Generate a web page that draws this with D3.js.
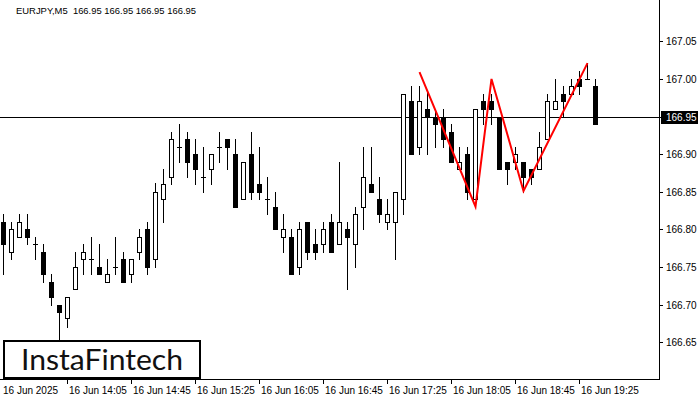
<!DOCTYPE html>
<html><head><meta charset="utf-8">
<script src="https://cdn.jsdelivr.net/npm/d3@7"></script>
<style>body{margin:0;background:#fff;} svg{display:block;}</style>
</head><body>
<svg id="c" width="700" height="400"></svg>
<script>
const symbolLabel = "EURJPY,M5";
const headerValues = ["166.95", "166.95", "166.95", "166.95"];

const open = [166.81,166.77,166.79,166.80,166.78,166.77,166.73,166.70,166.682,166.72,
  166.76,166.76,166.75,166.73,166.75,166.76,166.74,166.77,166.80,166.76,
  166.84,166.87,166.91,166.92,166.90,166.87,166.88,166.91,166.92,166.90,
  166.84,166.90,166.86,166.84,166.83,166.79,166.79,166.75,166.81,166.78,
  166.78,166.81,166.78,166.80,166.78,166.83,166.86,166.84,166.81,166.81,
  166.84,166.97,166.91,166.96,166.95,166.95,166.93,166.88,166.90,166.84,
  166.97,166.97,166.95,166.89,166.89,166.89,166.88,166.88,166.92,166.96,
  166.98,166.98,167.00,167.00,166.99];
const close = [166.78,166.80,166.81,166.79,166.78,166.74,166.71,166.69,166.71,166.75,
  166.77,166.76,166.74,166.74,166.75,166.73,166.76,166.79,166.75,166.85,
  166.86,166.92,166.91,166.89,166.88,166.87,166.90,166.91,166.91,166.83,
  166.89,166.85,166.85,166.84,166.80,166.80,166.74,166.80,166.77,166.77,
  166.80,166.77,166.81,166.79,166.82,166.87,166.85,166.82,166.82,166.85,
  166.98,166.90,166.97,166.95,166.94,166.92,166.89,166.89,166.85,166.96,
  166.96,166.96,166.88,166.88,166.90,166.87,166.87,166.91,166.97,166.97,
  166.97,166.99,166.99,167.00,166.94];
const high = [166.82,166.81,166.82,166.82,166.79,166.78,166.74,166.70,166.71,166.77,
  166.78,166.79,166.78,166.76,166.79,166.77,166.76,166.80,166.81,166.862,
  166.88,166.93,166.94,166.93,166.92,166.91,166.90,166.93,166.92,166.92,
  166.89,166.93,166.91,166.87,166.85,166.82,166.80,166.81,166.81,166.80,
  166.81,166.82,166.89,166.81,166.83,166.91,166.91,166.87,166.84,166.85,
  166.98,166.99,166.99,166.985,166.96,166.96,166.94,166.91,166.91,166.96,
  166.98,166.98,166.95,166.89,166.91,166.89,166.88,166.93,166.98,167.00,
  166.99,167.00,167.01,167.021,167.00];
const low = [166.74,166.76,166.79,166.78,166.76,166.73,166.70,166.646,166.67,166.72,
  166.74,166.74,166.74,166.73,166.74,166.73,166.73,166.76,166.74,166.75,
  166.81,166.86,166.89,166.87,166.86,166.85,166.86,166.89,166.88,166.83,
  166.84,166.84,166.84,166.82,166.80,166.77,166.74,166.74,166.76,166.76,
  166.77,166.77,166.78,166.72,166.75,166.80,166.85,166.81,166.80,166.76,
  166.82,166.90,166.90,166.90,166.91,166.91,166.89,166.88,166.84,166.84,
  166.94,166.94,166.88,166.86,166.88,166.85,166.86,166.88,166.92,166.96,
  166.95,166.98,166.98,167.00,166.94];

const xTickIndex = [0, 8, 16, 24, 32, 40, 48, 56, 64, 72];
const xTickLabels = ["16 Jun 2025", "16 Jun 14:05", "16 Jun 14:45", "16 Jun 15:25", "16 Jun 16:05",
  "16 Jun 16:45", "16 Jun 17:25", "16 Jun 18:05", "16 Jun 18:45", "16 Jun 19:25"];
const yTicks = [166.65, 166.70, 166.75, 166.80, 166.85, 166.90, 166.95, 167.00, 167.05];
const currentPrice = 166.95;
const patternIndex = [52, 59, 61, 65, 73];
const patternPrice = [167.009, 166.830, 167.000, 166.851, 167.021];
const logoText = "InstaFintech";

const svg = d3.select("#c");
const W = 700, H = 400, plotRight = 659, plotBottom = 379;
const font = "'Liberation Sans', Arial, sans-serif";

const x = d3.scaleLinear().domain([0, open.length - 1]).range([3, 3 + 8 * (open.length - 1)]);
const y = d3.scaleLinear().domain([166.65, 167.05]).range([342.1, 41.3]);
const px = v => Math.round(x(v)) + 0.5;
const py = v => Math.round(y(v));

svg.append("rect").attr("width", W).attr("height", H).attr("fill", "#fff");

// current price line
svg.append("line").attr("x1", 0).attr("x2", plotRight).attr("y1", py(currentPrice) + 0.5).attr("y2", py(currentPrice) + 0.5)
  .attr("stroke", "#000").attr("stroke-width", 1);

// candles
const g = svg.append("g");
open.forEach((o, i) => {
  const c = close[i], cx = px(i);
  g.append("line").attr("x1", cx).attr("x2", cx).attr("y1", py(high[i])).attr("y2", py(low[i]) + 1)
    .attr("stroke", "#000").attr("stroke-width", 1);
  const top = py(Math.max(o, c)), bot = py(Math.min(o, c));
  if (c > o) {
    g.append("rect").attr("x", cx - 2).attr("y", top + 0.5).attr("width", 4).attr("height", Math.max(bot - top, 1))
      .attr("fill", "#fff").attr("stroke", "#000").attr("stroke-width", 1);
  } else if (c < o) {
    g.append("rect").attr("x", cx - 2.5).attr("y", top).attr("width", 5).attr("height", Math.max(bot - top, 1) + 1)
      .attr("fill", "#000");
  } else {
    g.append("line").attr("x1", cx - 2.5).attr("x2", cx + 2.5).attr("y1", top + 0.5).attr("y2", top + 0.5)
      .attr("stroke", "#000").attr("stroke-width", 1);
  }
});

// pattern line
svg.append("path")
  .datum(patternIndex.map((d, k) => [d, patternPrice[k]]))
  .attr("d", d3.line().x(d => x(d[0]) + 0.5).y(d => y(d[1])))
  .attr("fill", "none").attr("stroke", "#ff0000").attr("stroke-width", 2);

// axes frame
svg.append("line").attr("x1", plotRight + 0.5).attr("x2", plotRight + 0.5).attr("y1", 0).attr("y2", plotBottom + 1)
  .attr("stroke", "#000");
svg.append("line").attr("x1", 0).attr("x2", plotRight + 1).attr("y1", plotBottom + 0.5).attr("y2", plotBottom + 0.5)
  .attr("stroke", "#000");

// y axis
const ya = svg.append("g");
yTicks.forEach(t => {
  const yy = py(t) + 0.5;
  ya.append("line").attr("x1", plotRight).attr("x2", plotRight + 4).attr("y1", yy).attr("y2", yy).attr("stroke", "#000");
  if (Math.abs(t - currentPrice) > 1e-6)
    ya.append("text").attr("x", 666).attr("y", yy).attr("dy", "0.35em").attr("font-family", font)
      .attr("font-size", 10).attr("fill", "#000").text(t.toFixed(2));
});
const cy = py(currentPrice) + 0.5;
ya.append("rect").attr("x", 661).attr("y", cy - 6.5).attr("width", 37).attr("height", 13).attr("fill", "#000");
ya.append("text").attr("x", 666).attr("y", cy).attr("dy", "0.35em").attr("font-family", font)
  .attr("font-size", 10).attr("fill", "#fff").text(currentPrice.toFixed(2));

// x axis
const xa = svg.append("g");
xTickIndex.forEach((t, k) => {
  const xx = px(t);
  if (k > 0) xa.append("line").attr("x1", xx).attr("x2", xx).attr("y1", plotBottom + 1).attr("y2", plotBottom + 5).attr("stroke", "#000");
  xa.append("text").attr("x", k === 0 ? 3 : xx + 1.5).attr("y", 390).attr("dy", "0.35em").attr("font-family", font)
    .attr("font-size", 10).attr("fill", "#000").text(xTickLabels[k]);
});

// header
svg.append("text").attr("x", 16).attr("y", 11).attr("dy", "0.35em").attr("font-family", font).attr("font-size", 9.5)
  .attr("fill", "#000").attr("xml:space", "preserve").attr("textLength", 180).attr("lengthAdjust", "spacingAndGlyphs")
  .text(symbolLabel + "  " + headerValues.join(" "));

// logo
svg.append("rect").attr("x", 4).attr("y", 341).attr("width", 196).attr("height", 37)
  .attr("fill", "#fff").attr("stroke", "#000").attr("stroke-width", 2);
svg.append("text").attr("x", 21).attr("y", 370).attr("font-family", "Lato, 'Open Sans', sans-serif").attr("font-size", 29)
  .attr("font-weight", 400).attr("fill", "#111").attr("textLength", 162).attr("lengthAdjust", "spacingAndGlyphs").text(logoText);
</script>
</body></html>
